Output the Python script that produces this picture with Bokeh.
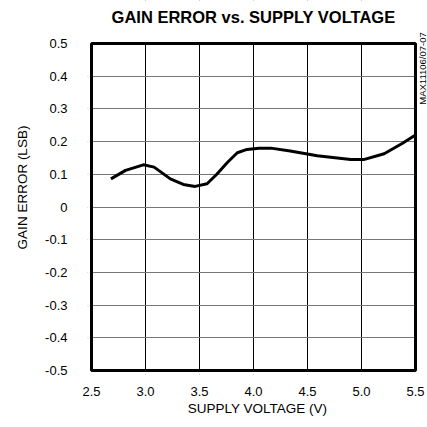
from bokeh.plotting import figure
from bokeh.models import Label, FixedTicker, Range1d, BoxAnnotation
from bokeh.embed import file_html
from bokeh.resources import INLINE
import numpy as np

# data
voltage = [2.68, 2.815, 2.98, 3.08, 3.23, 3.35, 3.46, 3.57, 3.66, 3.76, 3.85, 3.94, 4.05,
           4.16, 4.34, 4.59, 4.9, 5.02, 5.21, 5.38, 5.5]
gain_err = [0.086, 0.112, 0.129, 0.122, 0.086, 0.069, 0.063, 0.071, 0.1, 0.137, 0.166, 0.176, 0.18,
            0.18, 0.171, 0.157, 0.145, 0.145, 0.163, 0.195, 0.22]
x_ticks = [2.5, 3.0, 3.5, 4.0, 4.5, 5.0, 5.5]
y_ticks = [-0.5, -0.4, -0.3, -0.2, -0.1, 0.0, 0.1, 0.2, 0.3, 0.4, 0.5]
y_tick_labels = {-0.5: "-0.5", -0.4: "-0.4", -0.3: "-0.3", -0.2: "-0.2", -0.1: "-0.1", 0.0: "0",
                 0.1: "0.1", 0.2: "0.2", 0.3: "0.3", 0.4: "0.4", 0.5: "0.5"}
x_tick_labels = {2.5: "2.5", 3.0: "3.0", 3.5: "3.5", 4.0: "4.0", 4.5: "4.5", 5.0: "5.0", 5.5: "5.5"}
title_text = "GAIN ERROR vs. SUPPLY VOLTAGE"
code_text = "MAX11106/07-07"

FONT = "Liberation Sans"

X0, X1 = 2.5, 5.5
Y0, Y1 = -0.5, 0.5
PX_X = 108.0      # pixels per volt
PX_Y = 327.0      # pixels per unit of gain error
AX_LEFT, AX_BOTTOM = 91, 370   # pixel position of x=2.5 and y=-0.5
PAD = 4
W = H = 427
LEFT = AX_LEFT - PAD
BOTTOM = H - AX_BOTTOM - PAD

x_start = X0 - PAD / PX_X
x_end = X0 + (W - AX_LEFT) / PX_X
y_start = Y0 - PAD / PX_Y
y_end = Y0 + AX_BOTTOM / PX_Y

p = figure(width=W, height=H, output_backend="svg", toolbar_location=None,
           x_range=Range1d(x_start, x_end), y_range=Range1d(y_start, y_end),
           min_border_left=LEFT, min_border_right=0, min_border_top=0, min_border_bottom=BOTTOM)
p.outline_line_color = None

p.line(voltage, gain_err, line_color="black", line_width=3)

p.xgrid.ticker = FixedTicker(ticks=x_ticks[1:-1])
p.ygrid.ticker = FixedTicker(ticks=y_ticks[1:-1])
p.xgrid.grid_line_color = "black"
p.xgrid.grid_line_width = 1
p.ygrid.grid_line_color = "#777777"
p.ygrid.grid_line_width = 1

for ax in (p.xaxis[0], p.yaxis[0]):
    ax.axis_line_color = None
    ax.major_tick_line_color = None
    ax.minor_tick_line_color = None
    ax.major_tick_out = 0
    ax.major_tick_in = 0
    ax.major_label_text_font = FONT
    ax.major_label_text_font_size = "13px"
    ax.major_label_text_color = "black"
    ax.axis_label_text_font = FONT
    ax.axis_label_text_font_size = "13.5px"
    ax.axis_label_text_font_style = "normal"
    ax.axis_label_text_color = "black"

p.xaxis.bounds = (X0, X1)
p.yaxis.bounds = (Y0, Y1)
p.xaxis.ticker = FixedTicker(ticks=x_ticks)
p.yaxis.ticker = FixedTicker(ticks=y_ticks)
p.xaxis.major_label_overrides = x_tick_labels
p.yaxis.major_label_overrides = y_tick_labels
p.xaxis.major_label_standoff = 16 - PAD
p.yaxis.major_label_standoff = 24 - PAD
p.xaxis.axis_label = "SUPPLY VOLTAGE (V)"
p.yaxis.axis_label = "GAIN ERROR (LSB)"
p.xaxis.axis_label_standoff = 2
p.yaxis.axis_label_standoff = 12

# blank the parts of the frame outside the chart box
for kw in (dict(bottom=Y1), dict(left=X1), dict(right=X0), dict(top=Y0)):
    p.add_layout(BoxAnnotation(fill_color="white", fill_alpha=1, line_color=None, **kw))
# chart box border
p.add_layout(BoxAnnotation(left=X0, right=X1, bottom=Y0, top=Y1, fill_alpha=0,
                           line_color="black", line_width=3, line_alpha=1))

title = Label(x=(X0 + X1) / 2, y=Y1 + (43 - 16.3) / PX_Y, text=title_text, text_align="center",
              text_baseline="middle", text_font=FONT, text_font_style="bold",
              text_font_size="16.5px", text_color="black")
p.add_layout(title)

code = Label(x=X1 + (422.3 - 415) / PX_X, y=Y1 + (43 - 31.7) / PX_Y, text=code_text, angle=np.pi / 2,
             text_align="right", text_baseline="middle", text_font=FONT,
             text_font_size="9.5px", text_color="black")
p.add_layout(code)

open("out.html", "w").write(file_html(p, INLINE))
